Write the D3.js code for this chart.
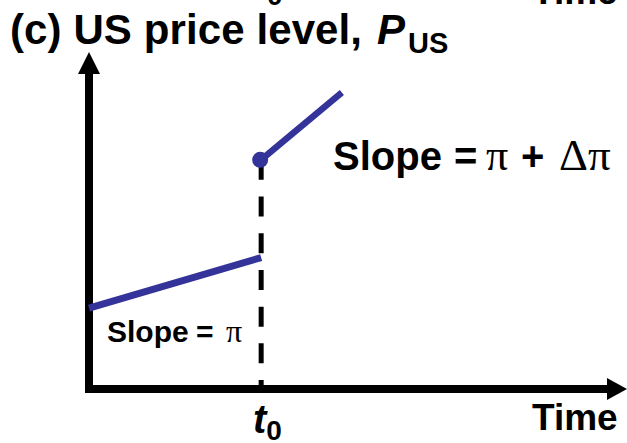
<!DOCTYPE html>
<html>
<head>
<meta charset="utf-8">
<script src="https://cdn.jsdelivr.net/npm/d3@7"></script>
<style>
  body { margin: 0; background: #fff; }
  text { font-family: "Liberation Sans", Arial, sans-serif; font-weight: bold; }
  .greek { font-family: "Liberation Serif", "DejaVu Serif", serif; font-weight: normal; }
</style>
</head>
<body>
<div id="chart"></div>
<script>
// Size of the picture
var svgWidth = 627;
var svgHeight = 443;

// time and price level, in arbitrary units
var t0 = 3.2;
var beforeTime = [0, 3.2];
var beforePrice = [2.4, 3.9];
var afterTime = [3.2, 4.7];
var afterPrice = [6.8, 8.8];

var blue = "#333399";

var svg = d3.select("#chart")
  .append("svg")
  .attr("width", svgWidth)
  .attr("height", svgHeight);

// scales: origin at the axes corner, arrows at the range ends
var xScale = d3.scaleLinear().domain([0, 10]).range([89, 627]);
var yScale = d3.scaleLinear().domain([0, 10]).range([389, 52]);

// leftovers of the panel above (cut off at the top)
svg.append("text")
  .attr("x", 267).attr("y", 5)
  .style("font-size", "28px")
  .text("0");
svg.append("text")
  .attr("x", 532).attr("y", 4)
  .style("font-size", "37px")
  .text("Time");

// title
var title = svg.append("text")
  .attr("y", 44)
  .style("font-size", "42px");
title.append("tspan").attr("x", 10).attr("textLength", 352).text("(c) US price level,");
title.append("tspan").attr("x", 377).style("font-style", "italic").text("P");
title.append("tspan").attr("x", 408).attr("dy", 9).style("font-size", "29px").text("US");

// axes
var x0 = xScale(0), y0 = yScale(0);
var xEnd = xScale.range()[1], yEnd = yScale.range()[1];

svg.append("line")
  .attr("x1", x0).attr("y1", y0 + 4)
  .attr("x2", x0).attr("y2", yEnd + 18)
  .attr("stroke", "#000").attr("stroke-width", 8);
svg.append("path")
  .attr("d", `M${x0},${yEnd} L${x0 - 11},${yEnd + 22} L${x0 + 11},${yEnd + 22} Z`)
  .attr("fill", "#000");

svg.append("line")
  .attr("x1", x0 - 4).attr("y1", y0)
  .attr("x2", xEnd - 18).attr("y2", y0)
  .attr("stroke", "#000").attr("stroke-width", 8);
svg.append("path")
  .attr("d", `M${xEnd},${y0} L${xEnd - 20},${y0 - 11} L${xEnd - 20},${y0 + 11} Z`)
  .attr("fill", "#000");

// dashed line at t0
svg.append("line")
  .attr("x1", xScale(t0)).attr("y1", yScale(afterPrice[0]))
  .attr("x2", xScale(t0)).attr("y2", y0)
  .attr("stroke", "#000").attr("stroke-width", 5)
  .attr("stroke-dasharray", "20,16.7");

// price path before and after t0
var line = d3.line()
  .x(d => xScale(d[0]))
  .y(d => yScale(d[1]));

svg.append("path")
  .attr("d", line(d3.zip(beforeTime, beforePrice)))
  .attr("stroke", blue).attr("stroke-width", 7).attr("fill", "none");

svg.append("path")
  .attr("d", line(d3.zip(afterTime, afterPrice)))
  .attr("stroke", blue).attr("stroke-width", 6.5).attr("fill", "none");

svg.append("circle")
  .attr("cx", xScale(afterTime[0]) - 1)
  .attr("cy", yScale(afterPrice[0]))
  .attr("r", 8)
  .attr("fill", blue);

// slope labels
var s1 = svg.append("text")
  .attr("y", 170)
  .style("font-size", "40px");
s1.append("tspan").attr("x", 333).text("Slope");
s1.append("tspan").attr("x", 454).text("=");
s1.append("tspan").attr("x", 486).attr("class", "greek").style("font-size", "44px").text("\u03c0");
s1.append("tspan").attr("x", 521).text("+");
s1.append("tspan").attr("x", 559).attr("class", "greek").style("font-size", "45px").text("\u0394\u03c0");

var s2 = svg.append("text")
  .attr("y", 342)
  .style("font-size", "30px");
s2.append("tspan").attr("x", 107).text("Slope");
s2.append("tspan").attr("x", 196).text("=");
s2.append("tspan").attr("x", 226).attr("class", "greek").style("font-size", "32px").text("\u03c0");

// axis labels
var tl = svg.append("text")
  .attr("x", 253).attr("y", 433)
  .style("font-size", "40px");
tl.append("tspan").style("font-style", "italic").text("t");
tl.append("tspan").attr("dy", 7).style("font-size", "28px").text("0");

svg.append("text")
  .attr("x", 532).attr("y", 430)
  .style("font-size", "37px")
  .text("Time");
</script>
</body>
</html>
